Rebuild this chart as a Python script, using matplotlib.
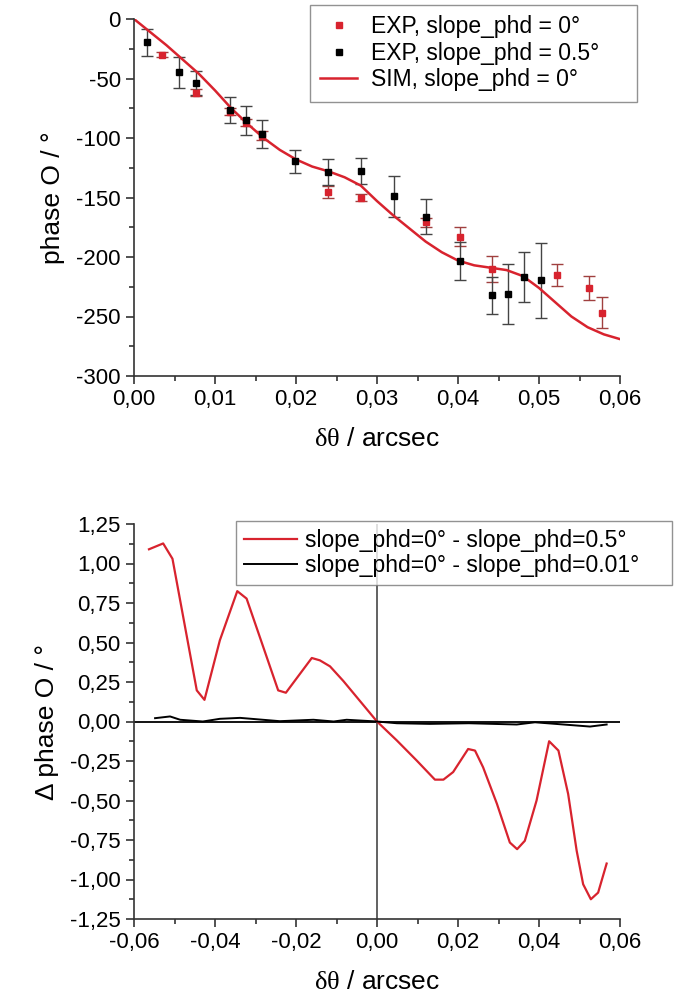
import matplotlib
matplotlib.use("Agg")
import matplotlib.pyplot as plt
from matplotlib.ticker import MultipleLocator, FuncFormatter

plt.rcParams['font.family'] = ['Liberation Sans', 'DejaVu Sans']
plt.rcParams['mathtext.fontset'] = 'custom'
plt.rcParams['mathtext.rm'] = 'Liberation Serif'
plt.rcParams['axes.unicode_minus'] = False

# top panel: experiment (slope_phd = 0 deg), red
exp0_x = [0.0035, 0.0077, 0.0118, 0.0138, 0.0158, 0.0240, 0.0280, 0.0361, 0.0402,
          0.0442, 0.0522, 0.0562, 0.0578]
exp0_y = [-30, -62, -78, -87, -98, -145, -150, -171, -183, -210, -215, -226, -247]
exp0_err = [2, 3, 3, 3, 4, 5, 3, 4, 8, 11, 9, 10, 13]

# experiment (slope_phd = 0.5 deg), black
exp5_x = [0.0016, 0.0056, 0.0077, 0.0118, 0.0138, 0.0158, 0.0199, 0.0240, 0.0280,
          0.0321, 0.0361, 0.0402, 0.0442, 0.0462, 0.0482, 0.0502]
exp5_y = [-19.5, -44.7, -53.6, -76.8, -85.1, -96.6, -119.5, -128.4, -127.9,
          -149, -166, -203.5, -232, -231.2, -217, -219.7]
exp5_err = [11.5, 13, 10, 11, 12, 12, 9.5, 11, 11, 17, 14.5, 16, 15.5, 25, 21, 31.5]

# simulation (slope_phd = 0 deg)
sim_x = [0.000, 0.002, 0.004, 0.006, 0.008, 0.010, 0.012, 0.014, 0.016, 0.018,
         0.020, 0.022, 0.024, 0.026, 0.028, 0.030, 0.032, 0.034, 0.036, 0.038,
         0.040, 0.042, 0.044, 0.046, 0.048, 0.050, 0.052, 0.054, 0.056, 0.058, 0.060]
sim_y = [0, -11, -22, -34, -46, -60, -75, -88, -100, -110,
         -118, -124, -128, -133, -140, -153, -165, -176, -187, -196,
         -203, -207, -209, -211, -216, -226, -238, -250, -259, -265, -269]

# bottom panel: differences
d05_x = [-0.0563, -0.0528, -0.0505, -0.0445, -0.0426, -0.0388, -0.0345, -0.0322,
         -0.0244, -0.0225, -0.0161, -0.0141, -0.0116, -0.0083, 0.0, 0.0049, 0.0098,
         0.0143, 0.0164, 0.0188, 0.0225, 0.0242, 0.0262, 0.0296, 0.0328, 0.0346,
         0.0365, 0.0394, 0.0425, 0.0448, 0.0472, 0.0493, 0.0509, 0.0528, 0.0546, 0.0567]
d05_y = [1.09, 1.127, 1.03, 0.197, 0.137, 0.514, 0.825, 0.778,
         0.197, 0.182, 0.402, 0.387, 0.349, 0.256, 0.0, -0.12, -0.247,
         -0.368, -0.368, -0.32, -0.174, -0.184, -0.29, -0.52, -0.766, -0.808,
         -0.755, -0.50, -0.125, -0.184, -0.459, -0.818, -1.03, -1.125, -1.083, -0.899]

d001_x = [-0.0548, -0.0511, -0.0486, -0.043, -0.0388, -0.0338, -0.024, -0.0157,
          -0.0107, -0.0075, 0.0, 0.0049, 0.013, 0.0227, 0.0345, 0.039, 0.0526, 0.0567]
d001_y = [0.021, 0.032, 0.011, 0.0, 0.017, 0.023, 0.002, 0.011,
          0.0, 0.011, 0.0, -0.011, -0.015, -0.011, -0.019, -0.005, -0.032, -0.019]

red = '#d8232e'
W, H = 675, 1006
fig = plt.figure(figsize=(W / 100, H / 100), dpi=100)

def comma(fmt):
    return FuncFormatter(lambda v, p: (fmt % v).replace('.', ',').replace('-0,00', '0,00'))

def style(ax):
    ax.spines['top'].set_visible(False)
    ax.spines['right'].set_visible(False)
    for s in ('left', 'bottom'):
        ax.spines[s].set_color('#333333')
        ax.spines[s].set_linewidth(1.2)
    ax.tick_params(which='both', direction='out', labelsize=16, color='#333333')
    ax.tick_params(which='major', length=6, width=1.2)
    ax.tick_params(which='minor', length=3.5, width=1.2)

# ---- top panel
ax1 = fig.add_axes([134 / W, 1 - 376 / H, 486 / W, 357 / H])
style(ax1)
e0 = ax1.errorbar(exp0_x, exp0_y, yerr=exp0_err, fmt='s', ms=4, color=red,
                  ecolor='#a0403f', elinewidth=1, capsize=4)
e5 = ax1.errorbar(exp5_x, exp5_y, yerr=exp5_err, fmt='s', ms=4, color='black',
                  ecolor='#444444', elinewidth=1, capsize=4)
sim, = ax1.plot(sim_x, sim_y, color=red, lw=1.8)
ax1.set_xlim(0, 0.06)
ax1.set_ylim(-300, 0)
ax1.xaxis.set_major_locator(MultipleLocator(0.01))
ax1.xaxis.set_minor_locator(MultipleLocator(0.005))
ax1.yaxis.set_major_locator(MultipleLocator(50))
ax1.yaxis.set_minor_locator(MultipleLocator(25))
ax1.xaxis.set_major_formatter(comma('%.2f'))
ax1.set_xlabel(r'$\mathrm{\delta\theta}$ / arcsec', fontsize=19, labelpad=12)
ax1.set_ylabel('phase O / °', fontsize=19, labelpad=8)
leg1 = fig.legend([e0[0], e5[0], sim],
                  ['EXP, slope_phd = 0°', 'EXP, slope_phd = 0.5°', 'SIM, slope_phd = 0°'],
                  loc='upper left', bbox_to_anchor=(310 / W, 1 - 5 / H, 327 / W, 0),
                  mode='expand', fontsize=16.5, frameon=True, fancybox=False,
                  borderaxespad=0, handlelength=1.6, handletextpad=0.6,
                  labelspacing=0.15, borderpad=0.45)
leg1.get_frame().set_edgecolor('#777777')
leg1.get_frame().set_linewidth(1.0)

# ---- bottom panel
ax2 = fig.add_axes([134 / W, 1 - 919 / H, 486 / W, 395 / H])
style(ax2)
ax2.axhline(0, color='black', lw=1.3, zorder=1)
ax2.axvline(0, color='#555555', lw=1.3, zorder=1)
l05, = ax2.plot(d05_x, d05_y, color=red, lw=1.6)
l001, = ax2.plot(d001_x, d001_y, color='black', lw=1.4)
ax2.set_xlim(-0.06, 0.06)
ax2.set_ylim(-1.25, 1.25)
ax2.xaxis.set_major_locator(MultipleLocator(0.02))
ax2.xaxis.set_minor_locator(MultipleLocator(0.01))
ax2.yaxis.set_major_locator(MultipleLocator(0.25))
ax2.yaxis.set_minor_locator(MultipleLocator(0.125))
ax2.xaxis.set_major_formatter(comma('%.2f'))
ax2.yaxis.set_major_formatter(comma('%.2f'))
ax2.set_xlabel(r'$\mathrm{\delta\theta}$ / arcsec', fontsize=19, labelpad=12)
ax2.set_ylabel('Δ phase O / °', fontsize=19, labelpad=8)
leg2 = fig.legend([l05, l001],
                  ['slope_phd=0° - slope_phd=0.5°', 'slope_phd=0° - slope_phd=0.01°'],
                  loc='upper left', bbox_to_anchor=(236 / W, 1 - 521 / H, 436 / W, 0),
                  mode='expand', fontsize=16.5, frameon=True, fancybox=False,
                  borderaxespad=0, handlelength=2.3, handletextpad=0.35,
                  labelspacing=0.1, borderpad=0.35)
leg2.get_frame().set_edgecolor('#777777')
leg2.get_frame().set_linewidth(1.0)

fig.savefig('out.png', dpi=100)
